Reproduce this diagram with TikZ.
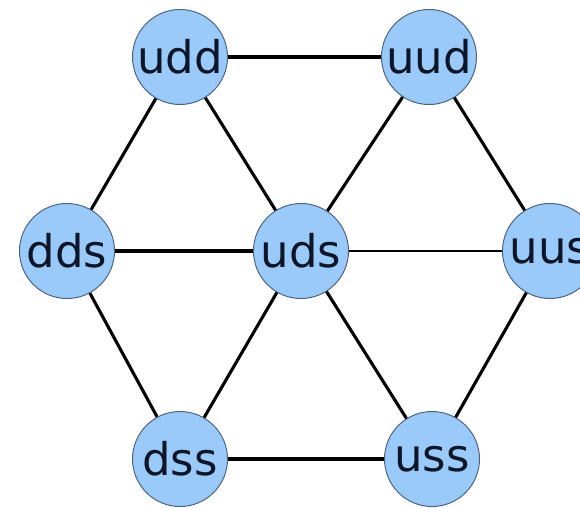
\documentclass[tikz,border=0pt]{standalone}
\usepackage{fontspec}
\setmainfont{DejaVu Sans}
\definecolor{quarkfill}{RGB}{153,202,250}
\definecolor{quarkrim}{RGB}{80,100,130}
\definecolor{quarktext}{RGB}{12,22,40}
\tikzset{
  quark/.style={circle, draw=quarkrim, line width=1pt, fill=quarkfill,
    minimum size=95pt, inner sep=0pt, text=quarktext,
    font=\fontsize{45}{45}\selectfont},
  bond/.style={line width=3.1pt, black},
  thickbond/.style={line width=4.4pt, black},
  thinbond/.style={line width=2.5pt, black}
}
\begin{document}
\begin{tikzpicture}[x=1pt, y=-1pt]
  \useasboundingbox (0,0) rectangle (580,507);
  \clip (0,0) rectangle (580,507);
  \fill[white] (0,0) rectangle (580,507);

  % baryon octet nodes
  \node[quark] (udd) at (180,57)  {udd};
  \node[quark] (uud) at (429,57)  {uud};
  \node[quark] (dds) at (67,251)  {dds};
  \node[quark] (uds) at (301,251) {uds};
  \node[quark] (uus) at (550,251) {uus};
  \node[quark] (dss) at (180,459) {dss};
  \node[quark] (uss) at (432,459) {uss};

  % connections
  \draw[thickbond] (udd) -- (uud);
  \draw[thickbond] (dss) -- (uss);
  \draw[bond] (dds) -- (uds);
  \draw[thinbond] (uds) -- (uus);
  \draw[bond] (udd) -- (dds);
  \draw[bond] (udd) -- (uds);
  \draw[bond] (uud) -- (uds);
  \draw[bond] (uud) -- (uus);
  \draw[bond] (dds) -- (dss);
  \draw[bond] (uds) -- (dss);
  \draw[bond] (uds) -- (uss);
  \draw[bond] (uus) -- (uss);
\end{tikzpicture}
\end{document}
